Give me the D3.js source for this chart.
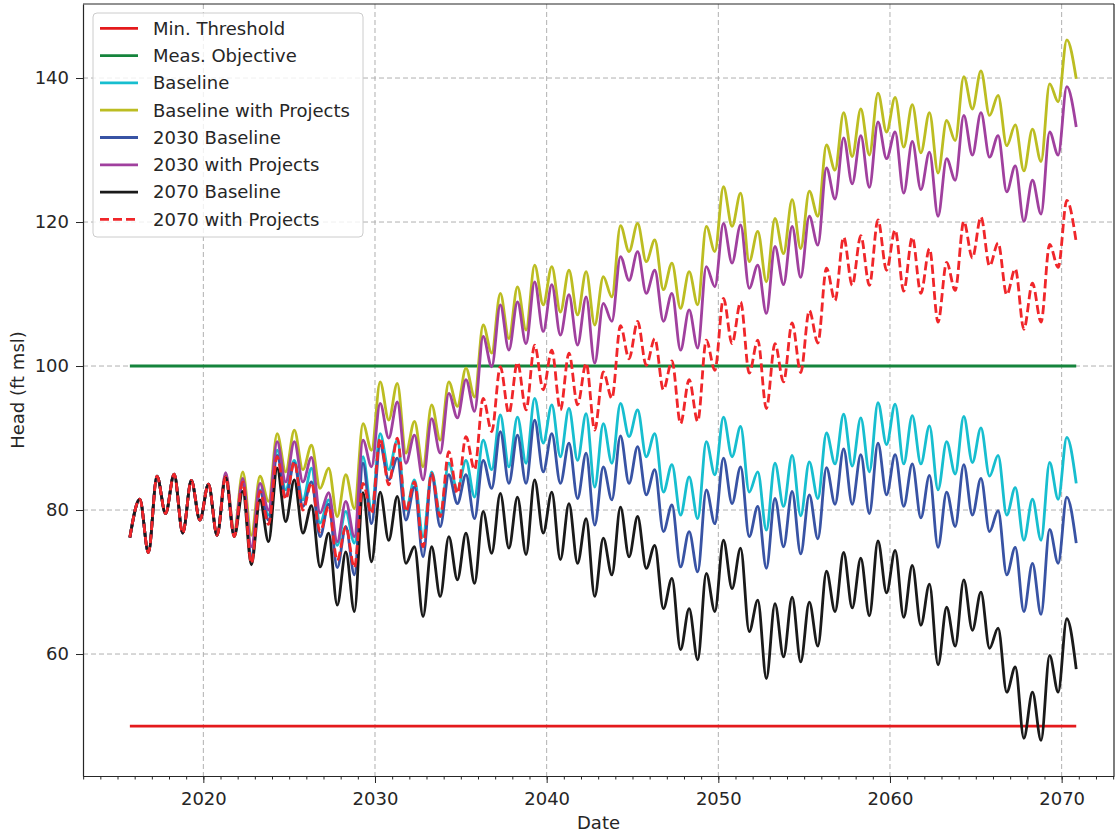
<!DOCTYPE html>
<meta charset="utf-8">
<style>
body { margin: 0; background: #fff; }
svg { display: block; font-family: "DejaVu Sans", sans-serif; }
.tick text { font-family: "DejaVu Sans", sans-serif; font-size: 18px; fill: #262626; }
.axis path, .axis line { stroke: #262626; }
.grid line { stroke: #b0b0b0; stroke-dasharray: 5,3; }
</style>
<body>
<script src="https://d3js.org/d3.v7.min.js"></script>
<script>

// decimal years of each sample (start, then yearly peak / trough, then end)
var dates = [2015.72,
  2016.3,2016.8, 2017.3,2017.8, 2018.3,2018.8, 2019.3,2019.8, 2020.3,2020.8,
  2021.3,2021.8, 2022.3,2022.8, 2023.3,2023.8, 2024.3,2024.8, 2025.3,2025.8,
  2026.3,2026.8, 2027.3,2027.8, 2028.3,2028.8, 2029.3,2029.8, 2030.3,2030.8,
  2031.3,2031.8, 2032.3,2032.8, 2033.3,2033.8, 2034.3,2034.8, 2035.3,2035.8,
  2036.3,2036.8, 2037.3,2037.8, 2038.3,2038.8, 2039.3,2039.8, 2040.3,2040.8,
  2041.3,2041.8, 2042.3,2042.8, 2043.3,2043.8, 2044.3,2044.8, 2045.3,2045.8,
  2046.3,2046.8, 2047.3,2047.8, 2048.3,2048.8, 2049.3,2049.8, 2050.3,2050.8,
  2051.3,2051.8, 2052.3,2052.8, 2053.3,2053.8, 2054.3,2054.8, 2055.3,2055.8,
  2056.3,2056.8, 2057.3,2057.8, 2058.3,2058.8, 2059.3,2059.8, 2060.3,2060.8,
  2061.3,2061.8, 2062.3,2062.8, 2063.3,2063.8, 2064.3,2064.8, 2065.3,2065.8,
  2066.3,2066.8, 2067.3,2067.8, 2068.3,2068.8, 2069.3,2069.8, 2070.3,2070.85];

// all scenarios share the same record until 2021
var early = [76.2, 81.5,74.1, 84.7,79.5, 85.0,76.8, 84.1,78.6, 83.6,76.5];

var baseline = early.concat([
  84.6,76.5, 83.9,73.5, 82.8,79.3, 88.3,82.8, 86.9,81.4, 85.8,78.2, 81.4,75.1, 79.8,75.4, 87.4,80.0, 90.6,85.6,
  89.7,80.0, 84.2,76.3, 85.3,79.5, 86.5,82.8, 86.9,81.8, 89.7,85.6, 93.2,86.0, 92.9,86.5, 95.5,89.3, 94.6,87.4,
  94.1,86.9, 93.4,83.2, 92.0,86.5, 94.8,90.2, 93.9,87.4, 90.6,82.5, 86.3,79.3, 84.6,78.8, 89.5,84.9, 92.9,87.4,
  91.6,82.5, 85.3,77.2, 86.5,80.5, 87.6,79.2, 86.7,81.6, 90.7,86.4, 93.3,86.1, 92.8,85.3, 94.9,89.1, 94.7,86.4,
  93.1,86.4, 91.7,82.8, 89.5,85.0, 93.0,86.6, 91.4,84.7, 87.6,79.3, 83.1,75.8, 81.5,75.8, 86.6,81.5, 90.1,83.7]);

var baselineProj = early.concat([
  85.0,77.2, 85.3,76.5, 84.7,81.2, 90.6,85.3, 91.1,85.6, 89.0,83.0, 85.8,79.1, 84.9,80.2, 92.0,88.3, 97.8,92.5,
  97.6,87.9, 92.3,86.0, 94.6,89.7, 97.8,94.4, 99.7,95.7, 105.7,101.8, 110.1,103.8, 111.0,105.0, 114.0,108.5, 113.8,107.5,
  113.3,107.1, 113.1,105.7, 112.4,109.6, 119.5,115.9, 119.8,114.5, 117.5,110.6, 114.3,108.0, 113.1,108.5, 119.4,115.9, 124.9,119.4,
  124.0,114.5, 118.7,111.7, 120.5,115.6, 123.1,116.3, 124.3,120.8, 130.7,127.2, 135.2,129.1, 135.7,129.3, 137.9,132.5, 137.3,130.4,
  136.3,129.6, 135.2,126.8, 134.1,131.3, 140.2,135.7, 141.0,134.8, 137.6,130.6, 133.5,127.1, 132.9,128.4, 139.2,136.7, 145.3,139.9]);

var base2030 = early.concat([
  84.6,76.4, 83.9,73.3, 82.6,78.6, 87.6,81.9, 86.5,80.5, 83.9,76.3, 80.8,72.0, 77.7,71.0, 86.5,78.1, 89.0,84.2,
  87.2,78.6, 83.2,73.5, 84.9,77.7, 84.9,80.9, 84.9,78.8, 86.9,83.0, 90.9,83.7, 90.4,83.7, 92.5,85.3, 90.6,83.7,
  89.3,81.6, 87.9,77.9, 86.0,81.4, 90.3,83.7, 88.8,82.1, 85.6,77.0, 80.7,72.1, 77.0,71.4, 82.8,78.1, 87.2,80.9,
  86.0,76.3, 80.5,71.9, 81.6,74.9, 82.6,73.9, 82.1,76.0, 85.9,80.8, 88.5,80.8, 87.7,79.5, 89.3,82.1, 87.7,80.5,
  86.4,78.9, 84.8,74.8, 82.5,77.7, 86.3,79.3, 84.4,77.0, 79.9,71.0, 74.8,65.9, 72.6,65.5, 77.3,72.6, 81.8,75.4]);

var proj2030 = early.concat([
  85.2,76.8, 84.4,74.9, 83.7,80.0, 89.5,83.9, 89.5,83.9, 87.3,79.6, 82.4,75.6, 81.2,76.3, 89.7,86.0, 94.8,90.0,
  95.0,86.5, 90.4,84.2, 92.7,87.9, 96.2,92.8, 98.1,93.7, 104.1,99.9, 108.5,102.2, 108.9,103.1, 111.7,104.8, 111.3,104.3,
  109.9,102.9, 109.6,100.4, 108.7,106.2, 115.2,111.9, 115.9,110.1, 113.3,106.2, 110.1,102.2, 107.8,102.5, 113.8,111.0, 119.8,114.3,
  119.6,110.8, 114.0,107.3, 116.6,111.3, 119.4,112.3, 120.8,116.8, 127.5,123.2, 131.7,125.3, 132.0,124.8, 133.9,128.8, 132.5,124.0,
  131.2,124.5, 129.7,120.8, 128.8,125.8, 134.8,129.3, 135.2,129.0, 132.0,124.2, 127.8,120.1, 125.8,121.1, 132.5,129.3, 138.8,133.2]);

var base2070 = early.concat([
  84.6,76.3, 82.6,72.4, 81.4,75.6, 85.8,78.4, 84.2,76.8, 80.6,72.1, 76.8,66.8, 74.2,65.9, 82.4,72.8, 82.5,75.8,
  81.9,72.6, 74.9,65.2, 74.9,68.0, 76.3,70.3, 76.8,69.8, 79.8,74.0, 82.3,74.7, 81.8,73.8, 84.2,76.8, 82.5,73.1,
  80.9,72.6, 78.8,68.0, 76.1,71.0, 80.4,73.5, 79.1,71.9, 75.1,66.3, 70.5,60.6, 66.3,59.2, 71.2,65.9, 75.8,69.1,
  74.7,63.1, 67.5,56.6, 67.0,59.6, 67.9,58.9, 67.2,61.1, 71.5,65.9, 74.1,66.4, 73.3,65.3, 75.7,68.5, 74.4,65.1,
  72.3,64.0, 69.7,58.5, 66.5,61.1, 70.3,63.3, 68.6,60.8, 63.6,54.7, 58.2,48.3, 54.7,48.0, 59.8,54.7, 64.9,57.9]);

var proj2070 = early.concat([
  84.6,76.3, 83.9,72.6, 82.6,78.0, 87.4,81.5, 86.7,80.0, 83.8,77.0, 80.5,73.0, 77.7,72.0, 83.7,79.5, 90.0,83.5,
  90.0,79.8, 83.9,74.9, 85.1,79.1, 88.1,82.3, 90.2,85.6, 95.5,90.9, 99.9,93.4, 100.5,93.9, 102.9,96.7, 102.2,93.9,
  101.8,94.6, 100.4,91.1, 99.2,95.5, 105.6,101.0, 106.2,100.1, 103.8,96.7, 100.7,92.0, 98.1,92.3, 103.6,99.4, 109.4,103.1,
  108.9,99.0, 103.6,94.1, 103.1,97.8, 106.0,99.1, 107.7,103.2, 113.6,109.1, 117.9,111.2, 118.1,111.2, 120.3,113.3, 118.9,110.4,
  117.9,110.1, 116.3,106.1, 114.4,110.5, 120.1,115.0, 120.7,113.9, 117.1,109.9, 113.5,105.1, 111.5,106.1, 116.9,113.7, 123.0,117.2]);

var minThreshold = 50;
var measObjective = 100;

// series in plotting order (same as legend)
var series = [
  {name: "Min. Threshold",         values: dates.map(function(){ return minThreshold; }), color: "#e41a1c"},
  {name: "Meas. Objective",        values: dates.map(function(){ return measObjective; }), color: "#15843c"},
  {name: "Baseline",               values: baseline,     color: "#17becf"},
  {name: "Baseline with Projects", values: baselineProj, color: "#bcbd22"},
  {name: "2030 Baseline",          values: base2030,     color: "#3853a4"},
  {name: "2030 with Projects",     values: proj2030,     color: "#a0409e"},
  {name: "2070 Baseline",          values: base2070,     color: "#1a1a1a"},
  {name: "2070 with Projects",     values: proj2070,     color: "#f0262a", dash: "9,4"}
];

var W = 1115, H = 838;
var m = {left: 83, right: 1114, top: 4, bottom: 776};

var x = d3.scaleLinear().domain([2012.99, 2073.05]).range([m.left, m.right]);
var y = d3.scaleLinear().domain([43.06, 150.28]).range([m.bottom, m.top]);

var svg = d3.select("body").append("svg")
    .attr("width", W)
    .attr("height", H);

svg.append("defs").append("clipPath").attr("id", "clip")
  .append("rect").attr("x", m.left).attr("y", m.top)
  .attr("width", m.right - m.left).attr("height", m.bottom - m.top);

var majorYears = [2020, 2030, 2040, 2050, 2060, 2070];
var minorYears = d3.range(2013, 2074);
var yTicks = [60, 80, 100, 120, 140];

// grid
svg.append("g").attr("class", "grid")
  .selectAll("line").data(majorYears).enter().append("line")
  .attr("x1", function(d){ return x(d); }).attr("x2", function(d){ return x(d); })
  .attr("y1", m.top).attr("y2", m.bottom);
svg.append("g").attr("class", "grid")
  .selectAll("line").data(yTicks).enter().append("line")
  .attr("y1", function(d){ return y(d); }).attr("y2", function(d){ return y(d); })
  .attr("x1", m.left).attr("x2", m.right);

// lines
var line = d3.line()
  .x(function(d){ return x(d[0]); })
  .y(function(d){ return y(d[1]); })
  .curve(d3.curveMonotoneX);

var plot = svg.append("g").attr("clip-path", "url(#clip)");
series.forEach(function(s){
  plot.append("path")
    .datum(dates.map(function(t, i){ return [t, s.values[i]]; }))
    .attr("fill", "none")
    .attr("stroke", s.color)
    .attr("stroke-width", 2.8)
    .attr("stroke-dasharray", s.dash || null)
    .attr("stroke-linejoin", "round")
    .attr("d", line);
});

// axes
svg.append("g").attr("class", "axis")
  .attr("transform", "translate(0," + m.bottom + ")")
  .call(d3.axisBottom(x).tickValues(minorYears).tickSize(3.5).tickFormat(""))
  .call(function(g){ g.select(".domain").remove(); });

svg.append("g").attr("class", "axis")
  .attr("transform", "translate(0," + m.bottom + ")")
  .call(d3.axisBottom(x).tickValues(majorYears).tickSize(7).tickSizeOuter(0).tickPadding(8).tickFormat(d3.format("d")))
  .call(function(g){ g.selectAll(".tick text").attr("dy", "0.8em"); });

svg.append("g").attr("class", "axis")
  .attr("transform", "translate(" + m.left + ",0)")
  .call(d3.axisLeft(y).tickValues(yTicks).tickSize(7).tickSizeOuter(0).tickPadding(7));

svg.selectAll(".axis path.domain").attr("stroke-width", 1.2);

// top and right spines
svg.append("line").attr("x1", m.left).attr("x2", m.right).attr("y1", m.top).attr("y2", m.top)
  .attr("stroke", "#262626").attr("stroke-width", 1.2);
svg.append("line").attr("x1", m.right).attr("x2", m.right).attr("y1", m.top).attr("y2", m.bottom)
  .attr("stroke", "#262626").attr("stroke-width", 1.2);

// axis labels
svg.append("text")
  .attr("x", (m.left + m.right) / 2).attr("y", 829)
  .attr("text-anchor", "middle")
  .style("font-size", "18px").style("fill", "#262626")
  .text("Date");

svg.append("text")
  .attr("transform", "translate(24," + ((m.top + m.bottom) / 2) + ") rotate(-90)")
  .attr("text-anchor", "middle")
  .style("font-size", "18px").style("fill", "#262626")
  .text("Head (ft msl)");

// legend
var lg = svg.append("g").attr("transform", "translate(93,13)");
lg.append("rect")
  .attr("width", 270).attr("height", 224)
  .attr("rx", 4).attr("ry", 4)
  .attr("fill", "#fff").attr("fill-opacity", 0.8)
  .attr("stroke", "#cccccc").attr("stroke-width", 1);

series.forEach(function(s, i){
  var cy = 15.3 + i * 27.3;
  lg.append("line")
    .attr("x1", 7).attr("x2", 45).attr("y1", cy).attr("y2", cy)
    .attr("stroke", s.color).attr("stroke-width", 2.8)
    .attr("stroke-dasharray", s.dash || null);
  lg.append("text")
    .attr("x", 60).attr("y", cy)
    .attr("dy", "0.35em")
    .style("font-size", "18px").style("fill", "#262626")
    .text(s.name);
});

</script>
</body>
